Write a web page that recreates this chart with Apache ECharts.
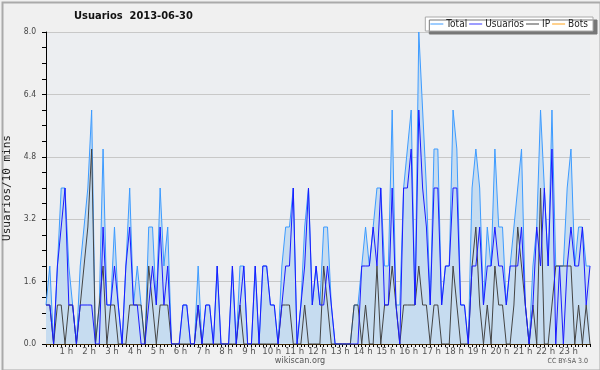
<!DOCTYPE html>
<html>
<head>
<meta charset="utf-8">
<script src="https://cdn.jsdelivr.net/npm/echarts@6/dist/echarts.min.js"></script>
<style>
html,body{margin:0;padding:0;background:#f0f0f0;}
#chart{width:600px;height:370px;}
</style>
</head>
<body>
<div id="chart"></div>
<script>
// Values per 10-minute slot (144 slots)
var total = [1,2,0,2,4,4,2,1,0,2,3,4,6,0,1,5,1,1,3,1,0,2,4,1,
             2,1,0,3,3,1,4,2,3,0,0,0,1,1,0,0,2,0,1,1,0,2,0,0,
             0,2,0,2,2,0,0,2,0,2,2,1,1,0,2,3,3,4,0,1,3,4,1,2,
             1,3,3,1,0,0,0,0,0,1,1,2,3,2,3,4,4,2,2,6,1,1,4,5,
             6,1,8,6,4,1,5,5,1,2,2,6,5,1,1,0,4,5,4,1,3,2,5,3,
             3,1,2,3,4,5,1,0,2,3,6,4,2,6,2,2,2,4,5,2,3,3,2,2];
var usuarios = [1,1,0,2,3,4,1,1,0,1,1,1,1,0,0,3,1,1,2,1,0,2,3,1,
                1,0,0,1,2,1,3,1,2,0,0,0,1,1,0,0,1,0,1,1,0,2,0,0,
                0,2,0,1,2,0,0,2,0,2,2,1,1,0,1,2,2,4,0,1,2,4,1,2,
                1,1,2,1,0,0,0,0,0,0,0,2,2,2,3,2,4,1,1,4,1,0,4,4,
                5,1,6,4,3,1,4,4,1,2,2,4,4,1,1,0,2,2,3,1,2,2,3,2,
                2,1,2,2,2,3,1,0,1,3,2,4,2,5,0,2,0,2,3,2,2,3,1,2];
var ip = [1,1,0,1,1,0,1,1,0,1,2,3,5,0,1,2,0,1,1,0,0,0,1,1,
          1,1,0,2,1,0,1,1,1,0,0,0,0,0,0,0,1,0,0,0,0,0,0,0,
          0,0,0,1,0,0,0,0,0,0,0,0,0,0,1,1,1,0,0,0,1,0,0,0,
          0,2,1,0,0,0,0,0,0,1,1,0,1,0,0,2,0,1,1,2,1,0,1,1,
          1,1,2,1,1,0,1,1,0,0,0,2,1,0,0,0,2,3,1,0,1,0,2,1,
          1,0,0,1,3,2,1,0,1,0,4,0,0,1,2,2,2,2,2,0,1,0,1,0];
var bots = [0,0,0,0,0,0,0,0,0,0,0,0,0,0,0,0,0,0,0,0,0,0,0,0,
            0,0,0,0,0,0,0,0,0,0,0,0,0,0,0,0,0,0,0,0,0,0,0,0,
            0,0,0,0,0,0,0,0,0,0,0,0,0,0,0,0,0,0,0,0,0,0,0,0,
            0,0,0,0,0,0,0,0,0,0,0,0,0,0,0,0,0,0,0,0,0,0,0,0,
            0,0,0,0,0,0,0,0,0,0,0,0,0,0,0,0,0,0,0,0,0,0,0,0,
            0,0,0,0,0,0,0,0,0,0,0,0,0,0,0,0,0,0,0,0,0,0,0,0];
var hourLabels = ['1 h','2 h','3 h','4 h','5 h','6 h','7 h','8 h','9 h','10 h','11 h','12 h',
                  '13 h','14 h','15 h','16 h','17 h','18 h','19 h','20 h','21 h','22 h','23 h'];
var yTicks = [0, 1.6, 3.2, 4.8, 6.4, 8.0];

var slots = [];
for (var i = 0; i < 144; i++) {
  var h = Math.floor(i / 6), m = (i % 6) * 10;
  slots.push((h < 10 ? '0' : '') + h + ':' + (m < 10 ? '0' : '') + m);
}

var chart = echarts.init(document.getElementById('chart'), null, {renderer: 'canvas'});
var FONT = 'DejaVu Sans Condensed, DejaVu Sans, sans-serif';
chart.setOption({
  animation: false,
  backgroundColor: '#f0f0f0',
  title: {
    text: 'Usuarios  2013-06-30',
    left: 69, top: 6,
    textStyle: {fontFamily: FONT, fontSize: 11, fontWeight: 'bold', color: '#111'}
  },
  legend: {
    right: 7, top: 17,
    backgroundColor: '#ffffff',
    borderColor: '#aaaaaa', borderWidth: 1,
    shadowColor: '#777777', shadowBlur: 0, shadowOffsetX: 4, shadowOffsetY: 3,
    padding: [2, 5, 2, 5],
    itemGap: 2, itemWidth: 13, itemHeight: 1,
    icon: 'rect',
    textStyle: {fontFamily: FONT, fontSize: 10, color: '#222', padding: [0, 0, 0, -2]},
    data: ['Total', 'Usuarios', 'IP', 'Bots']
  },
  grid: {
    left: 46, right: 10, top: 32, bottom: 26,
    containLabel: false, outerBoundsMode: 'none',
    show: true, backgroundColor: '#eceef1', borderWidth: 0
  },
  xAxis: {
    type: 'category', data: slots, boundaryGap: false,
    axisLine: {lineStyle: {color: '#000', width: 1}},
    axisTick: {interval: 0, length: 3, lineStyle: {color: '#000'}},
    axisLabel: {
      interval: function (idx) { return idx % 6 === 0 && idx > 0; },
      formatter: function (v, idx) { return hourLabels[idx / 6 - 1] || ''; },
      fontFamily: FONT, fontSize: 9.5, color: '#555', margin: 3,
      padding: [0, 5, 0, 0]
    },
    splitLine: {show: false}
  },
  yAxis: {
    type: 'value', min: yTicks[0], max: yTicks[yTicks.length - 1], interval: 1.6,
    name: 'Usuarios/10 mins', nameLocation: 'middle', nameGap: 27, nameRotate: 90,
    nameTextStyle: {fontFamily: 'DejaVu Sans Mono, monospace', fontSize: 11, color: '#222'},
    axisLine: {show: true, lineStyle: {color: '#000', width: 1}},
    axisTick: {show: true, length: 4, lineStyle: {color: '#000'}},
    minorTick: {show: true, splitNumber: 4, length: 4, lineStyle: {color: '#000'}},
    axisLabel: {
      formatter: function (v) { return v.toFixed(1); },
      fontFamily: FONT, fontSize: 8.5, color: '#444', margin: 10
    },
    splitLine: {show: true, lineStyle: {color: '#c8c8c8', width: 1}}
  },
  series: [
    {name: 'Total', type: 'line', data: total, symbol: 'none', z: 2,
     lineStyle: {color: '#3d9bff', width: 1}, itemStyle: {color: '#3d9bff'},
     areaStyle: {color: '#c6dcf0', opacity: 1}},
    {name: 'Usuarios', type: 'line', data: usuarios, symbol: 'none', z: 4,
     lineStyle: {color: '#1a1aff', width: 1}, itemStyle: {color: '#3a3aff'}},
    {name: 'IP', type: 'line', data: ip, symbol: 'none', z: 3,
     lineStyle: {color: '#444444', width: 1}, itemStyle: {color: '#444444'}},
    {name: 'Bots', type: 'line', data: bots, symbol: 'none', z: 1,
     lineStyle: {color: '#ffa31a', width: 1}, itemStyle: {color: '#ffa31a'}}
  ],
  graphic: [
    {type: 'rect', left: 0, top: 0, shape: {width: 598, height: 368}, silent: true,
     style: {fill: 'none', stroke: '#aaaaaa', lineWidth: 2}},
    {type: 'text', left: 'center', top: 356,
     style: {text: 'wikiscan.org', font: '9px ' + FONT, fill: '#555'}},
    {type: 'text', right: 12, top: 358,
     style: {text: 'CC BY-SA 3.0', font: '7px ' + FONT, fill: '#555'}}
  ]
});
</script>
</body>
</html>
